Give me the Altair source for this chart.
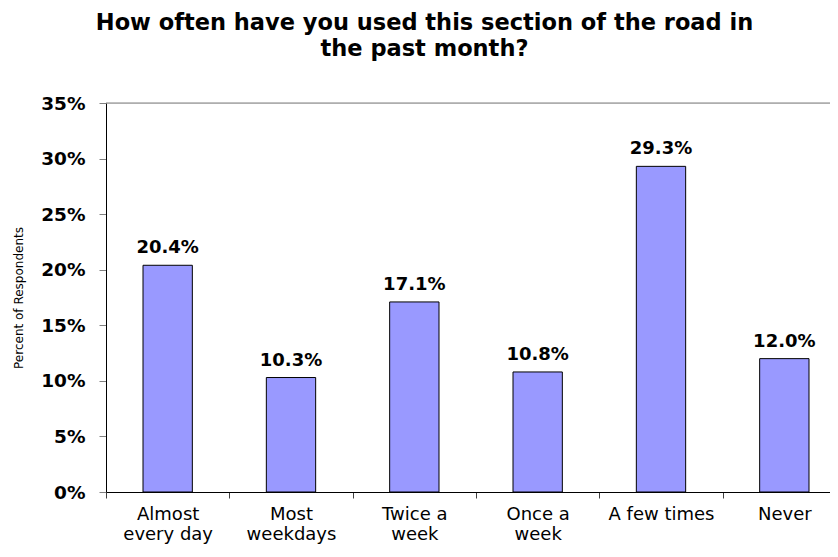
import altair as alt
import pandas as pd

categories = ["Almost every day", "Most weekdays", "Twice a week", "Once a week", "A few times", "Never"]
label_lines = [["Almost", "every day"], ["Most", "weekdays"], ["Twice a", "week"], ["Once a", "week"], ["A few times"], ["Never"]]
values = [0.204, 0.103, 0.171, 0.108, 0.293, 0.120]
y_ticks = [0, 0.05, 0.10, 0.15, 0.20, 0.25, 0.30, 0.35]

df = pd.DataFrame({"category": categories, "value": values})

def lines_expr():
    parts = []
    for c, ls in zip(categories, label_lines):
        arr = "[" + ",".join("'" + s + "'" for s in ls) + "]"
        parts.append(f"datum.label == '{c}' ? {arr} : ")
    return "".join(parts) + "datum.label"

FONT = "DejaVu Sans"
PLOT_W = 724
RANGE_W = 740
PLOT_H = 389

x = alt.X("category:N", sort=categories, title=None,
          scale=alt.Scale(paddingInner=0, paddingOuter=0, range=[0, RANGE_W]),
          axis=alt.Axis(labelAngle=0, labelExpr=lines_expr(), labelFont=FONT, labelFontSize=18,
                        labelColor="#000000", labelLineHeight=20, labelPadding=7,
                        tickBand="extent", tickSize=6, tickColor="#404040", domainColor="#000000",
                        labelBaseline="top"))
y = alt.Y("value:Q", title="Percent of Respondents",
          scale=alt.Scale(domain=[0, 0.35], nice=False),
          axis=alt.Axis(values=y_ticks, format=".0%", labelFont=FONT, labelFontSize=18.5,
                        labelFontWeight="bold", labelColor="#000000", labelPadding=14,
                        tickSize=7, tickColor="#808080", domainColor="#000000", grid=False,
                        titleFont=FONT, titleFontSize=12, titleFontWeight="normal",
                        titleColor="#000000", titleX=-88, titleY=PLOT_H / 2, titleAngle=-90,
                        titleBaseline="middle", titleAlign="center"))

base = alt.Chart(df)

bars = base.mark_bar(width=alt.RelativeBandSize(0.4), fill="#9999FF", stroke="#000000",
                     strokeWidth=1).encode(x=x, y=y)

labels = base.mark_text(font=FONT, fontSize=18, fontWeight="bold", color="#000000",
                        baseline="alphabetic", dy=-12).encode(
    x=alt.X("category:N", sort=categories),
    y=alt.Y("value:Q"),
    text=alt.Text("value:Q", format=".1%"))

top_line = alt.Chart(pd.DataFrame({"top": [0.35]})).mark_rule(color="#808080", strokeWidth=1).encode(
    y=alt.Y("top:Q"), x=alt.value(0), x2=alt.value(RANGE_W))

chart = alt.layer(bars, labels, top_line).properties(
    width=PLOT_W, height=PLOT_H,
    title=alt.TitleParams(
        text=["How often have you used this section of the road in", "the past month?"],
        font=FONT, fontSize=22.5, fontWeight="bold", color="#000000",
        lineHeight=26.7, anchor="middle", dx=-43.5, offset=33),
    autosize=alt.AutoSizeParams(type="none"),
    padding={"left": 98, "top": 95, "right": 0, "bottom": 52},
).configure_view(stroke=None).configure(background="white")

chart.save("out.html", embed_options={"renderer": "svg", "actions": False})
